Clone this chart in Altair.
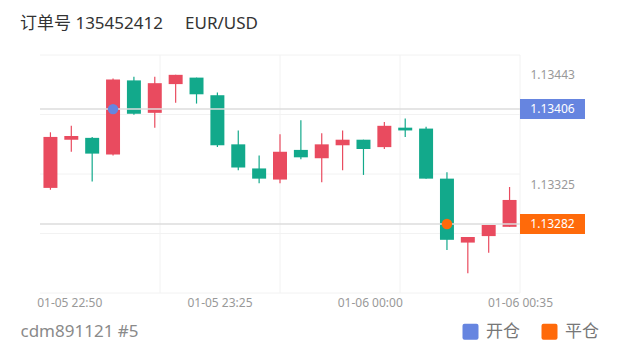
import altair as alt
import pandas as pd

# ---- data ----
times = ["01-05 22:45", "01-05 22:50", "01-05 22:55", "01-05 23:00", "01-05 23:05",
         "01-05 23:10", "01-05 23:15", "01-05 23:20", "01-05 23:25", "01-05 23:30",
         "01-05 23:35", "01-05 23:40", "01-05 23:45", "01-05 23:50", "01-05 23:55",
         "01-06 00:00", "01-06 00:05", "01-06 00:10", "01-06 00:15", "01-06 00:20",
         "01-06 00:25", "01-06 00:30", "01-06 00:35"]
opens = [1.13321, 1.13373, 1.13375, 1.13357, 1.13437, 1.13402, 1.13433, 1.13440, 1.13421, 1.13368,
         1.13342, 1.13330, 1.13362, 1.13353, 1.13367, 1.13373, 1.13365, 1.13386, 1.13385, 1.13331,
         1.13262, 1.13269, 1.13279]
closes = [1.13376, 1.13377, 1.13358, 1.13438, 1.13401, 1.13434, 1.13443, 1.13422, 1.13367, 1.13343,
          1.13331, 1.13360, 1.13354, 1.13368, 1.13373, 1.13363, 1.13388, 1.13383, 1.13331, 1.13265,
          1.13268, 1.13281, 1.13308]
highs = [1.13381, 1.13388, 1.13376, 1.13439, 1.13441, 1.13441, 1.13443, 1.13440, 1.13424, 1.13383,
         1.13356, 1.13379, 1.13394, 1.13380, 1.13383, 1.13373, 1.13392, 1.13396, 1.13387, 1.13338,
         1.13268, 1.13281, 1.13322]
lows = [1.13319, 1.13360, 1.13328, 1.13356, 1.13400, 1.13386, 1.13413, 1.13412, 1.13365, 1.13340,
        1.13326, 1.13326, 1.13352, 1.13327, 1.13340, 1.13335, 1.13363, 1.13376, 1.13331, 1.13254,
        1.13229, 1.13251, 1.13279]

trade_kinds = ["开仓", "平仓"]
trade_idx = [3, 19]
trade_prices = [1.13406, 1.13282]

y_tick_values = [1.13443, 1.13325]
x_tick_labels = ["01-05 22:50", "01-05 23:25", "01-06 00:00", "01-06 00:35"]
x_tick_pos = [0.9, 8.1, 15.3, 22.5]

title_text = "订单号 135452412" + "\u00a0" * 5 + "EUR/USD"
footer_text = "cdm891121 #5"

# ---- layout / style ----
W, H = 480, 238
FONT = "'Noto Sans', 'Noto Sans CJK SC', sans-serif"
RED, GREEN = "#e94b5f", "#12a98b"
BLUE, ORANGE = "#6685e0", "#ff6a0a"
GRID = "#f2f2f2"

n = len(opens)
df = pd.DataFrame({"time": times, "open": opens, "close": closes, "high": highs, "low": lows})
df["idx"] = range(n)
df["x0"] = df["idx"] - 0.335
df["x1"] = df["idx"] + 0.335

r = max(highs) - min(lows)
lo, hi = min(lows) - 0.1 * r, max(highs) + 0.1 * r
xlo, xhi = -0.5, n - 0.5
grid_y = pd.DataFrame({"gy": [lo + (hi - lo) * k / 4 for k in range(5)]})
grid_x = pd.DataFrame({"gx": [xlo + (xhi - xlo) * k / 4 for k in range(1, 5)]})

trades = pd.DataFrame({"kind": trade_kinds, "idx": trade_idx, "price": trade_prices})
half = 10 * (hi - lo) / H  # half badge height in price units

xscale = alt.Scale(domain=[xlo, xhi], nice=False, zero=False)
yscale = alt.Scale(domain=[lo, hi], nice=False, zero=False)

label_expr = "{}[indexof({}, datum.value)]".format(
    "[" + ",".join("'%s'" % s for s in x_tick_labels) + "]",
    "[" + ",".join(str(v) for v in x_tick_pos) + "]")

xaxis = alt.Axis(values=x_tick_pos, labelExpr=label_expr, grid=False, ticks=False, domain=False,
                 labelColor="#999", labelFontSize=12, labelFont=FONT, labelPadding=4,
                 labelOverlap=False, labelFlush=False,
                 title=footer_text, titleX=-20, titleY=38, titleAlign="left", titleAnchor="start",
                 titleBaseline="middle", titleFontSize=17, titleFontWeight="normal",
                 titleColor="#8a8a8a", titleFont=FONT)
yaxis = alt.Axis(orient="right", values=y_tick_values, format=".5f", grid=False, ticks=False,
                 domain=False, labelColor="#999", labelFontSize=12, labelFont=FONT,
                 labelPadding=10, labelBaseline="middle", title=None)


def X(field):
    return alt.X(field, scale=xscale, axis=xaxis)


def Y(field):
    return alt.Y(field, scale=yscale, axis=yaxis)


candle_color = alt.condition("datum.close >= datum.open", alt.value(RED), alt.value(GREEN))
kind_scale = alt.Scale(domain=trade_kinds, range=[BLUE, ORANGE])

base = alt.Chart(df)

body = base.mark_bar().encode(
    x=X("x0:Q"), x2="x1:Q", y=Y("open:Q"), y2="close:Q", color=candle_color)
wick = base.mark_rule(strokeWidth=1.2).encode(
    x=X("idx:Q"), y=Y("low:Q"), y2="high:Q", color=candle_color)

gy = alt.Chart(grid_y).mark_rule(color=GRID, strokeWidth=1).encode(y=Y("gy:Q"))
gx = alt.Chart(grid_x).mark_rule(color=GRID, strokeWidth=1).encode(x=X("gx:Q"))

lines = alt.Chart(trades).mark_rule(color="#dcdcdc", strokeWidth=1.5).encode(y=Y("price:Q"))

rounded = "M-1,-0.75Q-1,-1,-0.75,-1L0.75,-1Q1,-1,1,-0.75L1,0.75Q1,1,0.75,1L-0.75,1Q-1,1,-1,0.75Z"
markers = alt.Chart(trades).mark_circle(size=110, opacity=1).encode(
    x=X("idx:Q"),
    y=Y("price:Q"),
    color=alt.Color("kind:N", scale=kind_scale, legend=alt.Legend(
        orient="none", legendX=422, legendY=268, direction="horizontal", title=None,
        symbolType=rounded, symbolSize=256, symbolStrokeWidth=0, symbolOpacity=1,
        labelFontSize=17, labelColor="#777", labelFont=FONT, columnPadding=21,
        labelOffset=7, padding=0)),
)

badge = alt.Chart(trades).transform_calculate(
    top="datum.price + %r" % half, bot="datum.price - %r" % half
).mark_rect().encode(
    x=alt.value(W), x2=alt.value(W + 65),
    y=Y("top:Q"), y2="bot:Q",
    color=alt.Color("kind:N", scale=kind_scale, legend=None),
)
badge_text = alt.Chart(trades).mark_text(
    color="white", fontSize=12, font=FONT, align="center", baseline="middle"
).encode(
    x=alt.value(W + 32.5), y=Y("price:Q"),
    text=alt.Text("price:Q", format=".5f"),
)

chart = alt.layer(gy, gx, wick, body, lines, markers, badge, badge_text).properties(
    width=W, height=H,
    title=alt.TitleParams(title_text, anchor="start", dx=-20, offset=9, fontSize=17,
                          fontWeight="normal", color="#333", font=FONT, frame="group",
                          baseline="alphabetic"),
    autosize=alt.AutoSizeParams(type="none"),
    padding={"left": 40, "top": 55, "right": 100, "bottom": 59},
).configure(background="white").configure_view(strokeWidth=0)

chart.save("out.html", embed_options={"renderer": "svg", "actions": False})
